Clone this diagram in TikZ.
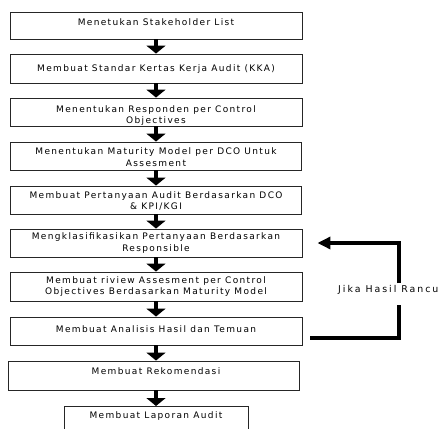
\documentclass[tikz,border=0pt]{standalone}
\usepackage{fontspec}
\setmainfont{DejaVu Sans}[LetterSpace=15]
\usetikzlibrary{arrows.meta}
\begin{document}
\begin{tikzpicture}[x=1pt,y=-1pt,
  box/.style={draw=black!85,line width=0.9pt,inner sep=0pt},
  txt/.style={inner sep=0pt,align=center,font=\fontsize{9}{11.5}\selectfont},
  down/.style={line width=4pt,-{Triangle[width=19pt,length=8pt]}},
  fb/.style={line width=4.5pt}]
\useasboundingbox (0,0) rectangle (438,428);
\clip (0,0) rectangle (438,428);
\node[box,minimum width=292,minimum height=27] (b1) at (156,25.5) {};
\node[box,minimum width=292,minimum height=29] (b2) at (156,68.5) {};
\node[box,minimum width=292,minimum height=28] (b3) at (156,112) {};
\node[box,minimum width=291,minimum height=28] (b4) at (155.5,156) {};
\node[box,minimum width=291,minimum height=28] (b5) at (155.5,200) {};
\node[box,minimum width=292,minimum height=28] (b6) at (156,243) {};
\node[box,minimum width=292,minimum height=29] (b7) at (156,286.5) {};
\node[box,minimum width=292,minimum height=28] (b8) at (156,331) {};
\node[box,minimum width=291,minimum height=29] (b9) at (153.5,375.5) {};
\node[box,minimum width=184,minimum height=28,anchor=north] (b10) at (156,406) {};
\node[txt] (t1) at (156,22) {Menetukan Stakeholder List};
\node[txt] (t2) at (156,69) {Membuat Standar Kertas Kerja Audit (KKA)};
\node[txt] (t3) at (156,115.5) {Menentukan Responden per Control\\Objectives};
\node[txt] (t4) at (156,157) {Menentukan Maturity Model per DCO Untuk\\Assesment};
\node[txt] (t5) at (156,201) {Membuat Pertanyaan Audit Berdasarkan DCO\\\& KPI/KGI};
\node[txt] (t6) at (156,243) {Mengklasifikasikan Pertanyaan Berdasarkan\\Responsible};
\node[txt] (t7) at (156,286.5) {Membuat riview Assesment per Control\\Objectives Berdasarkan Maturity Model};
\node[txt] (t8) at (156,329) {Membuat Analisis Hasil dan Temuan};
\node[txt] (t9) at (156,371) {Membuat Rekomendasi};
\node[txt] (t10) at (156,416) {Membuat Laporan Audit};
\foreach \a/\b in {b1/b2,b2/b3,b3/b4,b4/b5,b5/b6,b6/b7,b7/b8,b8/b9,b9/b10}
  \draw[down] (\a.south -| b1.south) -- (\b.north -| b1.north);
\node[txt,anchor=west,font=\fontsize{9.4}{11}\selectfont\addfontfeature{LetterSpace=21}] (j) at (338,290) {Jika Hasil Rancu};
\coordinate (c1) at (310,338);
\coordinate (c2) at (399,305);
\coordinate (c3) at (399,283);
\draw[fb] (c1) -| (c2);
\draw[fb,-{Triangle[width=12pt,length=13pt]},shorten >=15pt] (c3) |- (b6.east);
\end{tikzpicture}
\end{document}
